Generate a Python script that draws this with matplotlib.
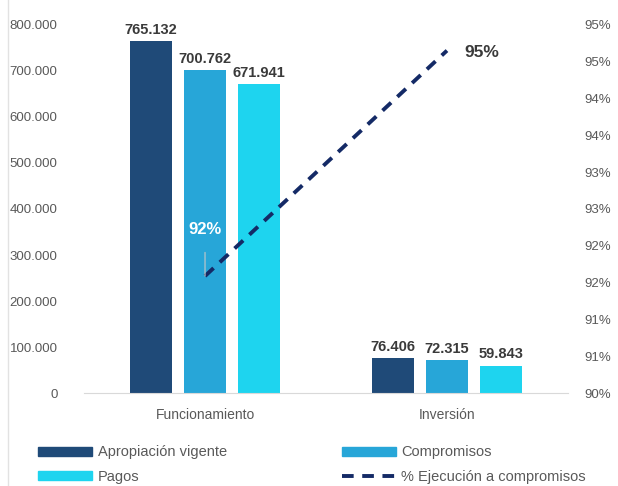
import numpy as np
import matplotlib.pyplot as plt
from matplotlib.lines import Line2D
from matplotlib.patches import Patch

plt.rcParams['font.family'] = ['Liberation Sans', 'DejaVu Sans']

# data
categorias = ["Funcionamiento", "Inversión"]
apropiacion = [765132, 76406]
compromisos = [700762, 72315]
pagos = [671941, 59843]
ejecucion = [91.59, 94.65]
etiquetas_apr = ["765.132", "76.406"]
etiquetas_com = ["700.762", "72.315"]
etiquetas_pag = ["671.941", "59.843"]
etiquetas_ejec = ["92%", "95%"]

c_apr = "#1f4a78"
c_com = "#27a6d8"
c_pag = "#1ed4ef"
c_lin = "#142a66"
gris = "#595959"

fig = plt.figure(figsize=(6.18, 4.86), dpi=100)
ax = fig.add_axes([0.136, 0.191, 0.783, 0.758])

x = np.arange(len(categorias))
w = 0.175
d = 0.224
ax.bar(x - d, apropiacion, w, color=c_apr)
ax.bar(x, compromisos, w, color=c_com)
ax.bar(x + d, pagos, w, color=c_pag)

for xs, vals, labs in [(x - d, apropiacion, etiquetas_apr),
                       (x, compromisos, etiquetas_com),
                       (x + d, pagos, etiquetas_pag)]:
    for xi, v, t in zip(xs, vals, labs):
        ax.text(xi, v + 9000, t, ha="center", va="bottom", fontsize=10.5,
                fontweight="bold", color="#3a3a3a")

ax.set_xlim(-0.5, 1.5)
ax.set_ylim(0, 800000)
ax.set_yticks(np.arange(0, 800001, 100000))
ax.set_yticklabels(["0"] + [f"{v // 1000}.000" for v in range(100000, 800001, 100000)])
ax.set_xticks(x)
ax.set_xticklabels(categorias)
ax.tick_params(axis="both", length=0, colors=gris, labelsize=9.5)
ax.tick_params(axis="y", pad=19)
ax.tick_params(axis="x", pad=11, labelsize=10)
for s in ["top", "right", "left"]:
    ax.spines[s].set_visible(False)
ax.spines["bottom"].set_color("#d9d9d9")

ax2 = ax.twinx()
ax2.plot(x, ejecucion, color=c_lin, lw=2.8, ls=(0, (3, 2.2)))
ax2.set_ylim(90, 95)
ticks2 = np.arange(90, 95.01, 0.5)
ax2.set_yticks(ticks2)
ax2.set_yticklabels([f"{int(v + 0.5)}%" for v in ticks2])
ax2.tick_params(axis="y", length=0, colors=gris, labelsize=9.5, pad=12)
for s in ax2.spines.values():
    s.set_visible(False)

# etiquetas de porcentaje
ax2.annotate(etiquetas_ejec[0], xy=(x[0], ejecucion[0]), xytext=(x[0], 92.22),
             ha="center", va="center", fontsize=12, fontweight="bold", color="white",
             arrowprops=dict(arrowstyle="-", color="#c8c8c8", lw=0.8, shrinkA=9, shrinkB=0))
ax2.text(x[1] + 0.07, ejecucion[1] - 0.03, etiquetas_ejec[1], ha="left", va="center",
         fontsize=12.5, fontweight="bold", color="#3a3a3a")

handles = [Patch(color=c_apr), Patch(color=c_com), Patch(color=c_pag),
           Line2D([0], [0], color=c_lin, lw=2.8, ls=(0, (3, 2.2)))]
labels = ["Apropiación vigente", "Compromisos", "Pagos", "% Ejecución a compromisos"]
order = [0, 2, 1, 3]
fig.legend([handles[i] for i in order], [labels[i] for i in order], ncol=2,
           loc="lower left", bbox_to_anchor=(0.041, -0.022), frameon=False,
           fontsize=10.5, labelcolor=gris, handlelength=3.7, handleheight=0.6,
           columnspacing=7.9, handletextpad=0.35, labelspacing=0.7)

# borde izquierdo tenue de la imagen original
fig.add_artist(Line2D([0.013, 0.013], [0, 1], color="#e2e2e2", lw=1))

fig.savefig("out.png", dpi=100)
